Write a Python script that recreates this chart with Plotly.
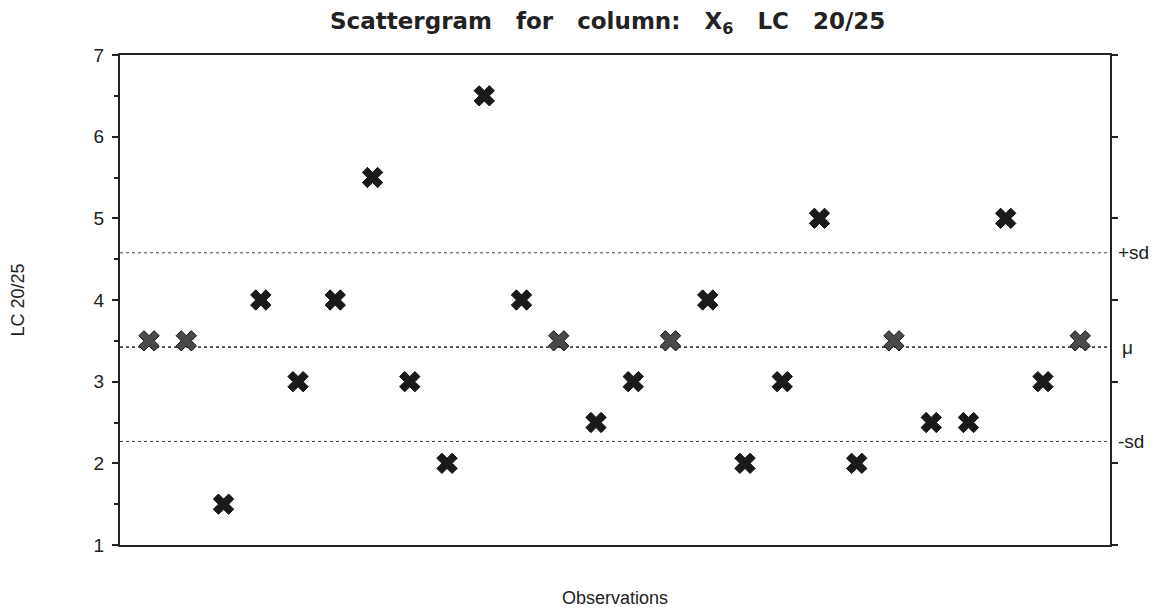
import plotly.graph_objects as go
import numpy as np

observations = list(range(1, 27))
lc_values = [3.5, 3.5, 1.5, 4, 3, 4, 5.5, 3, 2, 6.5, 4, 3.5, 2.5, 3, 3.5, 4, 2, 3, 5, 2, 3.5, 2.5, 2.5, 5, 3, 3.5]
y_ticks = [1, 2, 3, 4, 5, 6, 7]

mean = float(np.mean(lc_values))
sd = float(np.std(lc_values, ddof=1))

colors = ["#4a4a4a" if abs(v - mean) < 0.15 else "#1a1a1a" for v in lc_values]

fig = go.Figure()
x0, x1 = 0.22, 26.8
for yv, wdt in [(mean + sd, 1), (mean, 1.8), (mean - sd, 1)]:
    fig.add_trace(go.Scatter(x=[x0, x1], y=[yv, yv], mode="lines",
                             line=dict(color="#444", width=wdt, dash="dot"),
                             hoverinfo="skip", showlegend=False))

fig.add_trace(go.Scatter(
    x=observations, y=lc_values, mode="markers",
    marker=dict(symbol="x", size=18, color=colors, line=dict(color="#111", width=1)),
    showlegend=False))

font = "Liberation Sans, Arial, Helvetica, sans-serif"
fig.update_layout(
    width=1160, height=608,
    margin=dict(l=112, r=58, t=47, b=71, autoexpand=False),
    paper_bgcolor="white", plot_bgcolor="white",
    font=dict(family=font, size=18, color="#222"),
    title=dict(text="<b>Scattergram   for   column:   X<sub>6</sub>   LC   20/25</b>",
               x=0.517, xanchor="center", y=0.992, yanchor="top",
               font=dict(size=23, family="DejaVu Sans, sans-serif", color="#222")),
    xaxis=dict(range=[x0, x1], showticklabels=False, ticks="", showgrid=False,
               zeroline=False, showline=True, linecolor="#222", linewidth=2, mirror=True,
               automargin=False,
               title=dict(text="Observations", font=dict(size=18), standoff=45)),
    yaxis=dict(range=[1, 7], tickvals=y_ticks, ticks="outside", ticklen=6, tickwidth=2,
               tickcolor="#222", showgrid=False, zeroline=False, showline=True,
               linecolor="#222", linewidth=2, automargin=False, ticklabelstandoff=4,
               minor=dict(dtick=0.5, ticks="outside", ticklen=4, tickwidth=2, tickcolor="#222"),
               title=dict(text="LC 20/25", font=dict(size=18), standoff=68),
               tickfont=dict(size=19)),
    yaxis2=dict(range=[1, 7], overlaying="y", side="right", tickvals=y_ticks,
                showticklabels=False, ticks="outside", ticklen=6, tickwidth=2,
                tickcolor="#222", showgrid=False, zeroline=False, showline=True,
                linecolor="#222", linewidth=2, anchor="x", automargin=False),
)
fig.add_trace(go.Scatter(x=[None], y=[None], yaxis="y2", showlegend=False, hoverinfo="skip"))

for label, yv, dx in [("+sd", mean + sd, 6), ("\u03bc", mean, 10), ("-sd", mean - sd, 6)]:
    fig.add_annotation(x=1.0, xref="paper", y=yv, yref="y", text=label,
                       xanchor="left", yanchor="middle", xshift=dx,
                       showarrow=False, font=dict(size=19, family=font, color="#222"))

fig.write_html("out.html")
